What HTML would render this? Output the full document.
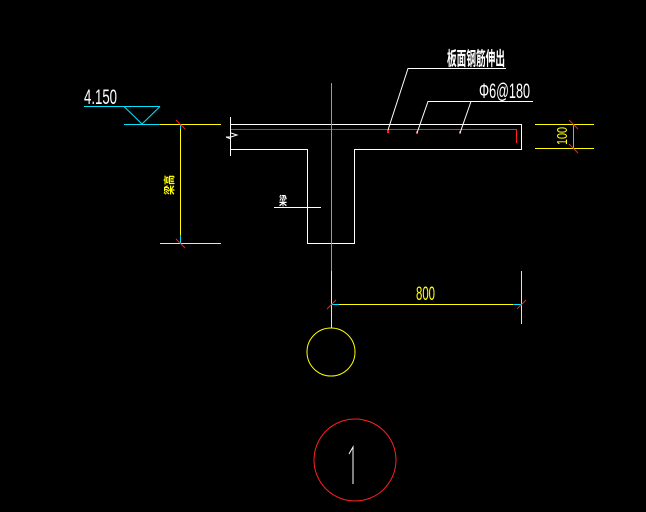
<!DOCTYPE html>
<html><head><meta charset="utf-8"><style>
html,body{margin:0;padding:0;background:#000;width:646px;height:512px;overflow:hidden}
svg{display:block}
text{font-family:"Liberation Sans Narrow","Liberation Sans","Noto Sans CJK SC",sans-serif}
</style></head><body>
<svg width="646" height="512" viewBox="0 0 646 512" xmlns="http://www.w3.org/2000/svg" shape-rendering="crispEdges">
<rect width="646" height="512" fill="#000"/>
<!-- elevation -->
<g stroke="#00e5ff" stroke-width="1" fill="none">
<line x1="84" y1="106.5" x2="160" y2="106.5"/>
<polyline points="124,106.5 142,124 160,106.5" shape-rendering="auto"/>
<line x1="124" y1="124.5" x2="160" y2="124.5"/>
</g>
<text x="84" y="104" fill="#fff" font-size="21" textLength="33" lengthAdjust="spacingAndGlyphs">4.150</text>
<!-- left dim -->
<g stroke="#ffff00" stroke-width="1">
<line x1="160" y1="124.5" x2="221" y2="124.5"/>
<line x1="160" y1="243.5" x2="221" y2="243.5"/>
<line x1="180.5" y1="128" x2="180.5" y2="235"/>
</g>
<g stroke="#00e5ff"><line x1="180.5" y1="124" x2="180.5" y2="129"/><line x1="180.5" y1="235" x2="180.5" y2="243"/></g>
<g stroke="#ff2020" shape-rendering="auto"><line x1="176" y1="120" x2="185" y2="129"/><line x1="176" y1="239" x2="185" y2="248"/></g>
<text transform="translate(173,185) rotate(-90)" fill="#ffff00" font-size="11" font-weight="bold" text-anchor="middle" textLength="20" lengthAdjust="spacingAndGlyphs">梁高</text>
<!-- section outline -->
<g stroke="#fff" stroke-width="1" fill="none">
<polyline points="231,124.5 521.5,124.5 521.5,149.5 354.5,149.5 354.5,243.5 307.5,243.5 307.5,149.5 231,149.5"/>
<line x1="230.5" y1="117" x2="230.5" y2="156"/>
<polyline points="231,133 234,134 237,135 231,137 226,137 231,139" shape-rendering="auto"/>
<line x1="274" y1="207.5" x2="321" y2="207.5"/>
</g>
<text x="279" y="205" fill="#fff" font-size="12" font-weight="bold" textLength="8" lengthAdjust="spacingAndGlyphs">梁</text>
<!-- rebar -->
<g stroke="#ff2020" stroke-width="1.2" fill="none">
<polyline points="231,129.5 516.5,129.5 516.5,143"/>
</g>
<g fill="#ff2020"><rect x="387" y="130" width="2" height="3"/><rect x="416" y="131" width="2" height="3"/><rect x="459" y="131" width="2" height="3"/></g>
<!-- axis -->
<line x1="331.5" y1="83" x2="331.5" y2="271" stroke="#999"/>
<line x1="331.5" y1="271" x2="331.5" y2="328" stroke="#ffff00"/>
<circle cx="331" cy="352" r="24" stroke="#ffff00" fill="none" shape-rendering="auto"/>
<!-- leaders -->
<g stroke="#fff" fill="none" shape-rendering="auto">
<polyline points="388,130 408,68.5 506,68.5"/>
<polyline points="417,133 428,101.5 533,101.5"/>
<line x1="460" y1="133" x2="471" y2="101.5"/>
</g>
<text x="447" y="65" fill="#fff" font-size="19" font-weight="bold" textLength="58" lengthAdjust="spacingAndGlyphs">板面钢筋伸出</text>
<text x="479" y="98" fill="#fff" font-size="21" textLength="51" lengthAdjust="spacingAndGlyphs">Φ6@180</text>
<!-- right dim -->
<g stroke="#ffff00"><line x1="535" y1="124.5" x2="594" y2="124.5"/><line x1="535" y1="148.5" x2="594" y2="148.5"/></g>
<line x1="573.5" y1="124" x2="573.5" y2="149" stroke="#00e5ff"/>
<g stroke="#ff2020" shape-rendering="auto"><line x1="569" y1="120" x2="578" y2="129"/><line x1="569" y1="144" x2="578" y2="153"/></g>
<text transform="translate(567,136) rotate(-90)" fill="#ffff00" font-size="15" text-anchor="middle" textLength="18" lengthAdjust="spacingAndGlyphs">100</text>
<!-- 800 dim -->
<g stroke="#ffff00"><line x1="331" y1="304.5" x2="521" y2="304.5"/><line x1="521.5" y1="271" x2="521.5" y2="324"/></g>
<g stroke="#00e5ff"><line x1="332" y1="304.5" x2="339" y2="304.5"/><line x1="513" y1="304.5" x2="521" y2="304.5"/></g>
<g stroke="#ff2020" shape-rendering="auto"><line x1="327" y1="309" x2="336" y2="300"/><line x1="517" y1="309" x2="526" y2="300"/></g>
<text x="416" y="300" fill="#ffff00" font-size="19" textLength="19" lengthAdjust="spacingAndGlyphs">800</text>
<!-- label circle -->
<circle cx="355" cy="460" r="41" stroke="#ff2020" fill="none" shape-rendering="auto"/>
<g stroke="#fff" fill="none" shape-rendering="auto"><polyline points="349,454 353,447 353,484"/></g>
</svg>
</body></html>
